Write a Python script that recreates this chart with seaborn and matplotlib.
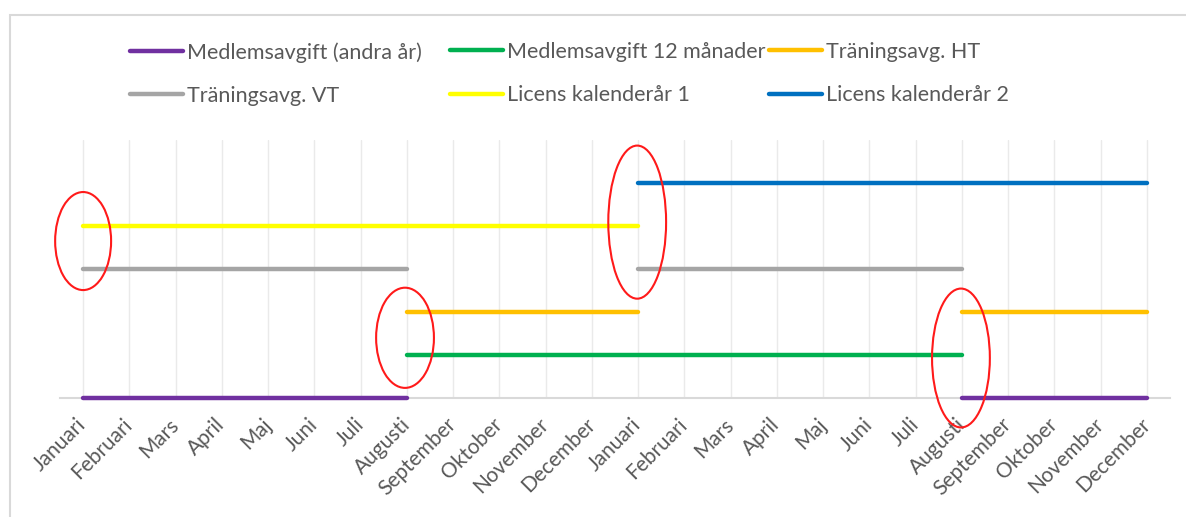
import pandas as pd
import seaborn as sns
import matplotlib.pyplot as plt
from matplotlib.lines import Line2D
from matplotlib.patches import Ellipse, Rectangle

# Two calendar years of months on the x axis
months = ['Januari', 'Februari', 'Mars', 'April', 'Maj', 'Juni', 'Juli', 'Augusti',
          'September', 'Oktober', 'November', 'December']
month_labels = months + months

series_names = ['Medlemsavgift (andra år)', 'Medlemsavgift 12 månader', 'Träningsavg. HT',
                'Träningsavg. VT', 'Licens kalenderår 1', 'Licens kalenderår 2']
series_colors = ['#7030A0', '#00B050', '#FFC000', '#A5A5A5', '#FFFF00', '#0070C0']

N = None
medlem_andra = [0, 0, 0, 0, 0, 0, 0, 0, N, N, N, N, N, N, N, N, N, N, N, 0, 0, 0, 0, 0]
medlem_12 = [N, N, N, N, N, N, N, 1, 1, 1, 1, 1, 1, 1, 1, 1, 1, 1, 1, 1, N, N, N, N]
traning_ht = [N, N, N, N, N, N, N, 2, 2, 2, 2, 2, 2, N, N, N, N, N, N, 2, 2, 2, 2, 2]
traning_vt = [3, 3, 3, 3, 3, 3, 3, 3, N, N, N, N, 3, 3, 3, 3, 3, 3, 3, 3, N, N, N, N]
licens_1 = [4, 4, 4, 4, 4, 4, 4, 4, 4, 4, 4, 4, 4, N, N, N, N, N, N, N, N, N, N, N]
licens_2 = [N, N, N, N, N, N, N, N, N, N, N, N, 5, 5, 5, 5, 5, 5, 5, 5, 5, 5, 5, 5]
all_series = [medlem_andra, medlem_12, traning_ht, traning_vt, licens_1, licens_2]

# red hand-drawn rings: (x centre, y centre, width, height) in data units
rings = [(0.0, 3.65, 1.21, 2.28), (6.96, 1.4, 1.25, 2.33),
         (11.98, 4.09, 1.25, 3.56), (18.98, 0.93, 1.25, 3.23)]

# long table, one segment id per unbroken run
rows = []
seg = 0
for name, vals in zip(series_names, all_series):
    prev = None
    for i, v in enumerate(vals):
        if v is None:
            prev = None
            continue
        if prev is None:
            seg += 1
        rows.append({'month': i, 'value': v, 'series': name, 'segment': seg})
        prev = v
df = pd.DataFrame(rows)

sns.set_theme(style='white')
plt.rcParams['font.family'] = ['Lato', 'DejaVu Sans']

W, H = 1186, 517
fig = plt.figure(figsize=(W / 100, H / 100), dpi=100)
ax = fig.add_axes([60 / W, (H - 398) / H, 1110 / W, 258 / H])

sns.lineplot(data=df, x='month', y='value', hue='series', units='segment', estimator=None,
             palette=dict(zip(series_names, series_colors)), hue_order=series_names,
             lw=3.2, legend=False, ax=ax, solid_capstyle='round', clip_on=False, zorder=3)

for cx, cy, w, h in rings:
    ax.add_patch(Ellipse((cx, cy), w, h, fill=False, edgecolor='#FF1A1A', lw=1.5,
                         clip_on=False, zorder=4))

ax.set_xlim(-0.5, 23.5)
ax.set_ylim(0, 6)
ax.set_xticks(range(len(month_labels)))
ax.set_xticklabels(month_labels, rotation=45, ha='right', va='center',
                   rotation_mode='anchor', color='#595959', fontsize=15)
ax.tick_params(axis='x', length=0, pad=17)
ax.set_yticks([])
ax.set_xlabel('')
ax.set_ylabel('')
ax.grid(axis='x', color='#EAEAEA', lw=1)
for s in ['top', 'left', 'right']:
    ax.spines[s].set_visible(False)
ax.spines['bottom'].set_color('#D9D9D9')
ax.spines['bottom'].set_linewidth(1.5)

# legend laid out in three columns like the spreadsheet
handles = [Line2D([], [], color=c, lw=3.2, solid_capstyle='round') for c in series_colors]
col_x = [130, 450, 769]
for k in range(3):
    idx = [k, k + 3]
    leg = fig.legend([handles[i] for i in idx], [series_names[i] for i in idx],
                     loc='upper left', bbox_to_anchor=(col_x[k] / W, 1 - 42 / H),
                     frameon=False, borderpad=0, borderaxespad=0, handlelength=2.45,
                     handletextpad=0.22, labelspacing=1.08, fontsize=15.5)
    for t in leg.get_texts():
        t.set_color('#595959')

fig.patches.append(Rectangle((10 / W, -0.05), 1.1, 1 - 15 / H + 0.05, transform=fig.transFigure,
                             fill=False, edgecolor='#D9D9D9', lw=1.5))

fig.savefig('out.png', dpi=100)
